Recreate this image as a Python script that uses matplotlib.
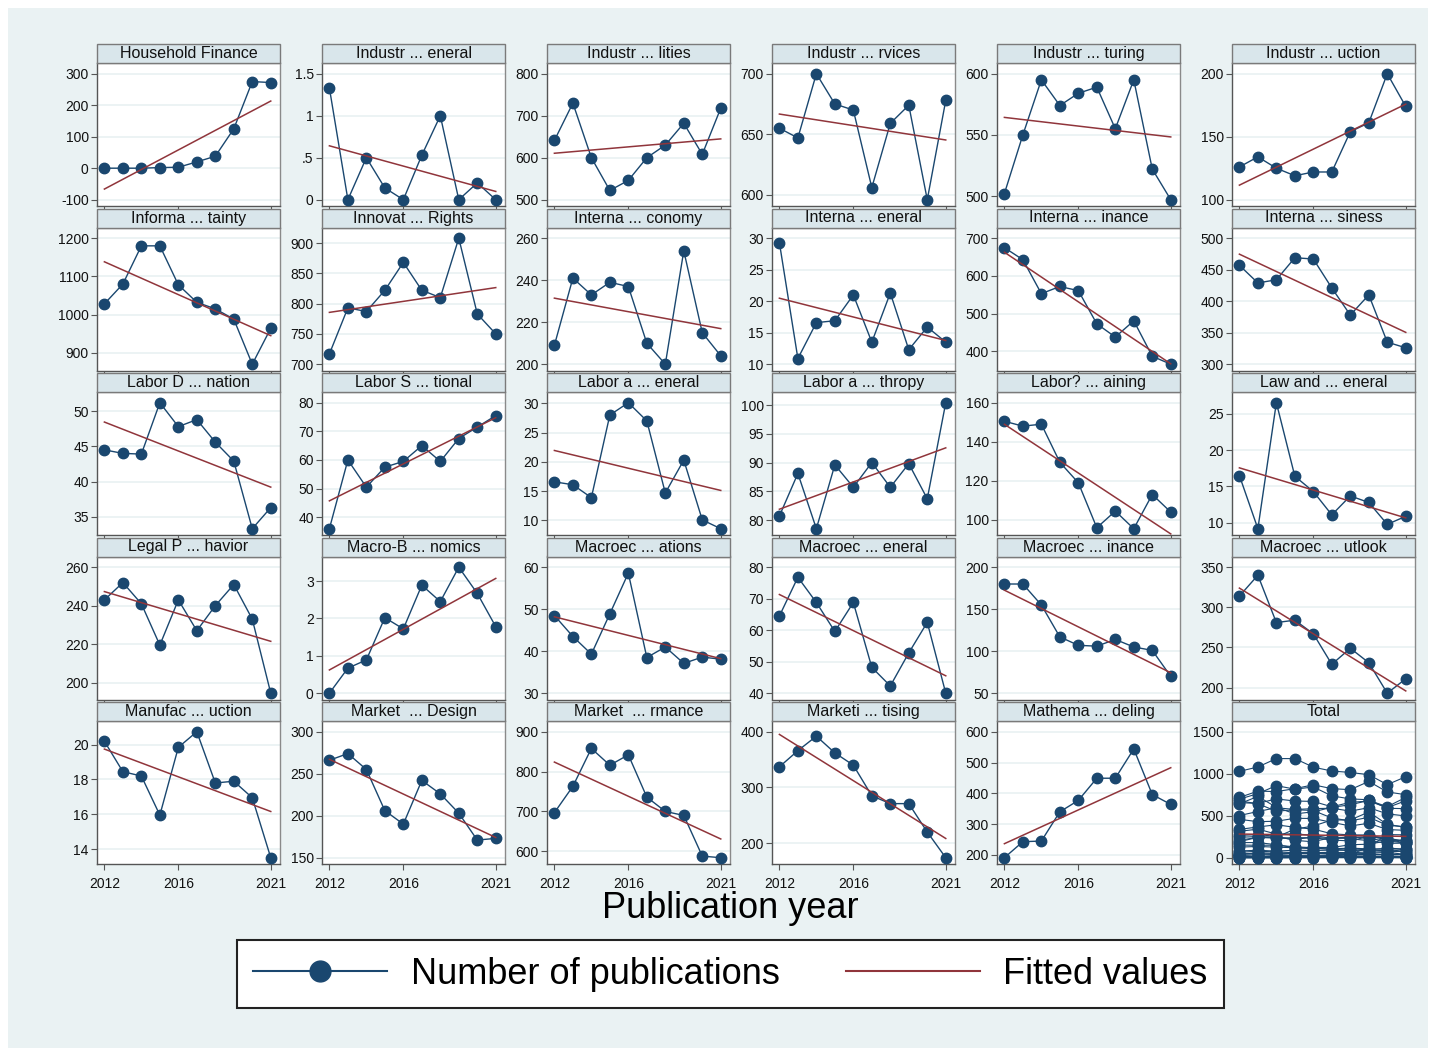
import numpy as np
import matplotlib
matplotlib.use("Agg")
import matplotlib.pyplot as plt
from matplotlib.patches import Rectangle
from matplotlib.lines import Line2D

plt.rcParams['font.family'] = ['Liberation Sans', 'DejaVu Sans']

W, H = 1430, 1052
NAVY = '#1A476F'
MAROON = '#90353B'
BG = '#EAF2F3'
STRIP = '#D9E6EB'

years = np.arange(2012, 2022)

titles = [
    "Household Finance", "Industr ... eneral", "Industr ... lities", "Industr ... rvices",
    "Industr ... turing", "Industr ... uction", "Informa ... tainty", "Innovat ... Rights",
    "Interna ... conomy", "Interna ... eneral", "Interna ... inance", "Interna ... siness",
    "Labor D ... nation", "Labor S ... tional", "Labor a ... eneral", "Labor a ... thropy",
    "Labor? ... aining", "Law and ... eneral", "Legal P ... havior", "Macro-B ... nomics",
    "Macroec ... ations", "Macroec ... eneral", "Macroec ... inance", "Macroec ... utlook",
    "Manufac ... uction", "Market  ... Design", "Market  ... rmance", "Marketi ... tising",
    "Mathema ... deling",
]

# publications per year, 2012-2021
household = [0, 0, 0, 2, 3, 20, 38, 125, 275, 272]
ind_general = [1.33, 0, 0.5, 0.14, 0, 0.53, 1.0, 0, 0.2, 0]
ind_utilities = [641, 730, 600, 522, 546, 600, 630, 682, 608, 718]
ind_services = [655, 647, 700, 675, 670, 606, 659, 674, 596, 678]
ind_manufacturing = [502, 550, 595, 574, 584, 589, 555, 595, 522, 497]
ind_production = [126, 134, 125, 119, 122, 122, 154, 161, 200, 174]
info_uncertainty = [1028, 1080, 1180, 1180, 1078, 1032, 1015, 988, 870, 964]
innov_rights = [717, 793, 787, 822, 868, 822, 810, 908, 783, 750]
intl_economy = [209, 241, 233, 239, 237, 210, 200, 254, 215, 204]
intl_general = [29.3, 10.9, 16.6, 16.9, 21.0, 13.5, 21.3, 12.3, 15.9, 13.5]
intl_finance = [675, 643, 553, 572, 561, 473, 438, 481, 387, 366]
intl_business = [457, 429, 434, 469, 467, 421, 378, 410, 335, 326]
labor_discrim = [44.5, 44.0, 43.9, 51.2, 47.8, 48.8, 45.6, 42.9, 33.3, 36.3]
labor_stand = [36, 60, 50.5, 57.5, 59.5, 65, 59.5, 67.5, 71.5, 75.5]
labor_general = [16.6, 16.1, 13.9, 28.0, 30.1, 27.0, 14.7, 20.3, 10.1, 8.6]
labor_philan = [80.7, 88.1, 78.5, 89.6, 85.7, 90.0, 85.7, 89.8, 83.7, 100.4]
labor_training = [150.5, 148, 149, 129.5, 119, 96, 104.5, 95.5, 113, 104]
law_general = [16.5, 9.2, 26.5, 16.4, 14.3, 11.1, 13.7, 12.8, 9.8, 10.9]
legal_behavior = [243, 252, 241, 219.5, 243, 227, 240, 251, 233, 194.5]
macro_bnomics = [0, 0.67, 0.89, 2.02, 1.72, 2.89, 2.45, 3.37, 2.67, 1.78]
macro_ations = [48.5, 43.5, 39.3, 48.9, 58.6, 38.5, 41.0, 37.1, 38.6, 38.1]
macro_general = [64.5, 76.8, 68.8, 59.6, 68.8, 48.2, 42.3, 52.8, 62.5, 40.0]
macro_finance = [180, 180, 155, 117, 107, 106, 114, 105, 101, 70]
macro_outlook = [314, 340, 281, 284, 267, 229, 249, 231, 193, 211]
manuf_production = [20.2, 18.45, 18.2, 15.95, 19.85, 20.75, 17.8, 17.9, 16.95, 13.5]
market_design = [266, 274, 255, 206, 190, 242, 226, 203, 171, 173]
market_perf = [697, 763, 858, 816, 842, 736, 700, 690, 588, 584]
marketing_adv = [337, 366, 392, 362, 340, 285, 271, 271, 220, 174]
math_modeling = [191, 243, 245, 340, 377, 449, 449, 544, 396, 364]

series = [
    household, ind_general, ind_utilities, ind_services, ind_manufacturing, ind_production,
    info_uncertainty, innov_rights, intl_economy, intl_general, intl_finance, intl_business,
    labor_discrim, labor_stand, labor_general, labor_philan, labor_training, law_general,
    legal_behavior, macro_bnomics, macro_ations, macro_general, macro_finance, macro_outlook,
    manuf_production, market_design, market_perf, marketing_adv, math_modeling,
]

yticks = [
    [-100, 0, 100, 200, 300], [0, 0.5, 1, 1.5], [500, 600, 700, 800], [600, 650, 700],
    [500, 550, 600], [100, 150, 200], [900, 1000, 1100, 1200], [700, 750, 800, 850, 900],
    [200, 220, 240, 260], [10, 15, 20, 25, 30], [400, 500, 600, 700], [300, 350, 400, 450, 500],
    [35, 40, 45, 50], [40, 50, 60, 70, 80], [10, 15, 20, 25, 30], [80, 85, 90, 95, 100],
    [100, 120, 140, 160], [10, 15, 20, 25], [200, 220, 240, 260], [0, 1, 2, 3],
    [30, 40, 50, 60], [40, 50, 60, 70, 80], [50, 100, 150, 200], [200, 250, 300, 350],
    [14, 16, 18, 20], [150, 200, 250, 300], [600, 700, 800, 900], [200, 300, 400],
    [200, 300, 400, 500, 600],
]
total_ticks = [0, 500, 1000, 1500]
xticks = [2012, 2016, 2021]


def fmt(v):
    s = f"{v:g}"
    if s.startswith("0."):
        s = s[1:]
    return s


fig = plt.figure(figsize=(W / 100, H / 100), dpi=100, facecolor='white')
fig.add_artist(Rectangle((8 / W, 4 / H), 1420 / W, 1040 / H, transform=fig.transFigure,
                         facecolor=BG, edgecolor='none', zorder=-10))

col_left = [97, 322, 547, 772, 997, 1232]
row_top = [44, 208.5, 373, 537.5, 702]
pw, ph, sh = 183, 143, 19

for i in range(30):
    r, c = divmod(i, 6)
    x0 = col_left[c]
    top = row_top[r] + sh
    ax = fig.add_axes([x0 / W, 1 - (top + ph) / H, pw / W, ph / H])
    ax.set_facecolor('white')

    if i < 29:
        y = np.array(series[i], dtype=float)
        ticks = yticks[i]
        ax.plot(years, y, color=NAVY, lw=1.0, marker='o', ms=7.5, clip_on=False, zorder=3)
        xs, ys = years, y
        title = titles[i]
    else:
        ticks = total_ticks
        for s in series:
            ax.plot(years, s, color=NAVY, lw=0.8, marker='o', ms=7.5, clip_on=False, zorder=3)
        xs = np.tile(years, len(series))
        ys = np.concatenate([np.array(s, dtype=float) for s in series])
        y = ys
        title = "Total"

    b, a = np.polyfit(xs, ys, 1)
    ax.plot(years, a + b * years, color=MAROON, lw=1.1, zorder=4)

    lo = min(y.min(), ticks[0])
    hi = max(y.max(), ticks[-1])
    span = hi - lo
    ax.set_ylim(lo - 0.05 * span, hi + 0.085 * span)
    ax.set_xlim(2012 - 0.4, 2021 + 0.5)
    ax.set_yticks(ticks)
    ax.set_yticklabels([fmt(t) for t in ticks])
    ax.set_xticks(xticks)
    ax.grid(axis='y', color=BG, lw=1.3)
    ax.set_axisbelow(True)
    ax.tick_params(axis='both', direction='out', length=4, width=0.8, color='#555555',
                   labelsize=10, pad=2, labelcolor='#111111')
    if r < 4:
        ax.tick_params(axis='x', labelbottom=False)
    else:
        ax.tick_params(axis='x', pad=5)
    for sp in ax.spines.values():
        sp.set_color('#8A8A8A')
        sp.set_linewidth(1.0)
    ax.spines['left'].set_color('#555555')
    ax.spines['bottom'].set_color('#555555')

    ax.add_patch(Rectangle((0, 1), 1, sh / ph, transform=ax.transAxes, clip_on=False,
                           facecolor=STRIP, edgecolor='#7A7A7A', lw=1.0, zorder=5))
    ax.text(0.5, 1 + sh / ph / 2, title, transform=ax.transAxes, ha='center', va='center',
            fontsize=11.5, color='#111111', zorder=6)

fig.text(730 / W, 1 - 908 / H, "Publication year", ha='center', va='center', fontsize=26)

handles = [
    Line2D([], [], color=NAVY, lw=1.5, marker='o', ms=15),
    Line2D([], [], color=MAROON, lw=1.5),
]
leg = fig.legend(handles, ["Number of publications", "Fitted values"], loc='center',
                 bbox_to_anchor=(730.5 / W, 1 - 974 / H), ncol=2, fontsize=26,
                 handlelength=3.7, handletextpad=0.65, columnspacing=1.85,
                 borderpad=0.45, fancybox=False, framealpha=1)
leg.get_frame().set_edgecolor('#222222')
leg.get_frame().set_linewidth(1.5)

fig.savefig("out.png", dpi=100, facecolor=fig.get_facecolor())
